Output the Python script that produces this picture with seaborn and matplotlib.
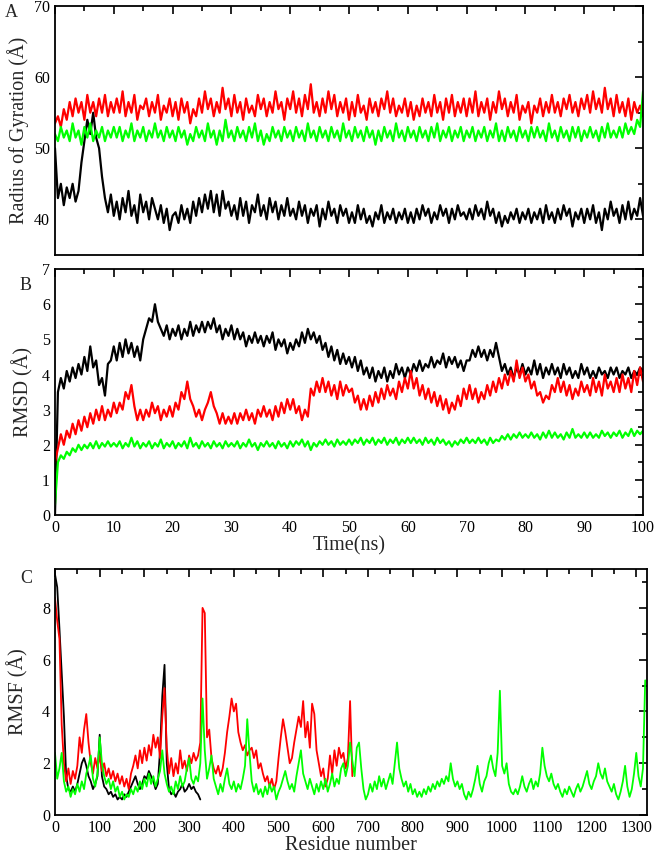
import numpy as np
import pandas as pd
import matplotlib
matplotlib.use("Agg")
import matplotlib.pyplot as plt
from matplotlib.ticker import MultipleLocator
import seaborn as sns

# ---------------- data ----------------
time_step = 0.5  # ns between samples

rg_black = [50, 43, 45, 42, 44.5, 43, 45, 42.5, 44,
            48, 51, 54, 52, 55, 51.5, 50, 46,
            43, 41, 43.5, 40.5,
            42.5, 40, 43, 41, 44, 40.5, 42, 39.5, 43.5, 41, 42.5, 40, 43, 41.5, 40, 42, 39.5, 41.5, 38.5, 40.5,
            41, 39.5, 42, 40, 41.5, 39.5, 42.5, 40.5, 43, 41, 43.5, 41.5, 44, 41, 43.5, 40.5, 44, 41.5, 42.5, 40.5,
            42, 40, 43, 40.5, 42.5, 39.5, 42, 41, 43.5, 40.5, 42, 40, 43, 41, 42.5, 40, 42, 40.5, 43, 40.5,
            41.5, 40, 42.5, 40.5, 42, 39.5, 41.5, 40.5, 42, 39, 41.5, 40, 42.5, 40.5, 41.5, 39.5, 42, 40.5, 41.5, 39.5,
            41, 39.5, 42, 40, 41.5, 39.5, 40.5, 39, 41, 40, 42, 39.5, 41, 40, 41.5, 39.5, 41, 40, 41.5, 39.5,
            41, 39.5, 41.5, 40, 42, 40.5, 41.5, 39.5, 41, 40, 42, 40.5, 41.5, 39.5, 41.5, 40, 42, 40.5, 41, 40,
            41.5, 40, 42, 40.5, 41.5, 40, 42.5, 40.5, 41.5, 39.5, 41, 39, 40.5, 39.5, 41, 40, 41.5, 39.5, 41, 40,
            41.5, 39.5, 41, 40, 41.5, 39.5, 42, 40, 41, 39.5, 41.5, 40, 42, 40.5, 41.5, 39, 41, 40, 41.5, 39.5,
            41.5, 40, 42, 39.5, 41, 38.5, 41.5, 40, 42.5, 40.5, 41.5, 39.5, 42, 40, 42.5, 40, 41.5, 40.5, 43, 40.5]

rg_red = [53.5, 54.5, 53, 55.5, 54, 56.5, 54.5, 57, 55, 56.5, 54, 57.5, 55, 56.5, 54.5, 57, 55, 57.5, 54.5, 56.5, 55,
          57, 55, 58, 54.5, 56.5, 55, 57.5, 54, 56, 55.5, 57, 54.5, 56.5, 55, 57.5, 54, 56, 55, 57, 54.5,
          56.5, 54, 57, 55, 56.5, 53.5, 55.5, 54.5, 57, 55, 58, 55.5, 57, 54.5, 56.5, 55, 58.5, 55.5, 57, 54.5,
          57.5, 55, 56.5, 54, 57, 55, 56, 54.5, 57.5, 55.5, 57, 54.5, 56.5, 55, 58, 55.5, 56.5, 54, 57, 55.5,
          58, 55, 57, 54.5, 57.5, 55.5, 59, 55, 56.5, 54.5, 57, 55, 58, 55.5, 57.5, 54.5, 56.5, 55, 57, 54,
          56.5, 54.5, 57.5, 55, 56, 54, 57, 55, 56.5, 54.5, 57, 55.5, 58, 55, 57, 54.5, 56, 55, 57, 54.5,
          56.5, 54, 56, 54.5, 57, 55, 56.5, 54.5, 57.5, 55, 56.5, 54, 57, 55, 57.5, 54.5, 56.5, 55, 57, 54.5,
          57, 55, 58, 54.5, 56.5, 55, 57, 54, 56.5, 55, 58, 55.5, 57, 54.5, 56.5, 55, 57.5, 54, 56, 55,
          56.5, 53.5, 56, 55, 57, 54.5, 56.5, 55, 57.5, 55, 56.5, 54.5, 57, 55.5, 57.5, 55, 56.5, 54.5, 57, 55.5,
          57.5, 55, 58, 55.5, 57, 55, 58.5, 55.5, 57, 54.5, 57.5, 55, 56.5, 54.5, 57, 54, 56.5, 55, 56, 54.5]

rg_green = [52, 51, 53, 51.5, 52.5, 51, 53.5, 51.5, 52.5, 50.5, 53, 51.5, 53.5, 51, 52.5, 51.5, 53, 51, 52.5, 51.5, 53,
            51.5, 53, 51, 52.5, 51.5, 53.5, 51, 52.5, 51.5, 53, 51, 52.5, 51.5, 53.5, 51.5, 52.5, 51, 53, 51.5, 52.5,
            51, 53, 51.5, 52.5, 50.5, 52, 51, 53, 51.5, 52.5, 51, 53.5, 51.5, 52.5, 50.5, 52.5, 51, 54, 51.5, 52.5,
            51, 53, 51.5, 52.5, 51, 53, 51.5, 53.5, 51, 52.5, 50.5, 52, 51, 53, 51.5, 52.5, 51, 53, 51.5, 52.5,
            51, 53, 51.5, 52.5, 51, 53.5, 51.5, 52.5, 51, 53, 51.5, 52.5, 51, 53, 51.5, 52.5, 51, 53.5, 51.5, 52.5,
            51, 53, 51.5, 52.5, 51, 53, 51.5, 52.5, 50.5, 52.5, 51, 53, 51.5, 52.5, 51, 53.5, 51.5, 52.5, 51, 53,
            51.5, 52.5, 51, 53, 51.5, 52.5, 51, 53, 51.5, 53.5, 51, 52.5, 51.5, 53, 51, 52.5, 51.5, 53, 51, 52.5,
            51.5, 53, 51, 52.5, 51.5, 53, 51, 52.5, 51.5, 53.5, 51, 52.5, 51, 53, 51.5, 52.5, 51, 53, 51.5, 52.5,
            51, 53, 51.5, 53, 51.5, 52.5, 51, 53.5, 51.5, 52.5, 51, 53, 51.5, 52.5, 51, 53, 51.5, 53, 51, 52.5,
            51.5, 53, 51.5, 52.5, 51, 53, 51.5, 53.5, 51.5, 52.5, 51.5, 53, 51.5, 53.5, 52, 53, 52, 54, 53, 58]

rmsd_black = [0, 3.5, 3.9, 3.6, 4.1, 3.8, 4.2, 3.9, 4.3, 4.0, 4.5,
              4.1, 4.8, 4.2, 4.4, 3.7, 3.9, 3.4, 4.3, 4.4, 4.8,
              4.4, 4.9, 4.5, 5.0, 4.6, 4.9, 4.5, 4.8, 4.4, 5.0,
              5.3, 5.6, 5.5, 6.0, 5.5, 5.3, 5.1, 5.4, 5.0, 5.3,
              5.1, 5.4, 5.0, 5.3, 5.1, 5.5, 5.1, 5.4, 5.2, 5.5,
              5.2, 5.5, 5.3, 5.6, 5.2, 5.4, 5.0, 5.3, 5.1, 5.4,
              5.0, 5.3, 5.0, 5.2, 4.8, 5.1, 4.9, 5.2, 4.9, 5.1,
              4.8, 5.1, 4.9, 5.2, 4.7, 5.0, 4.8, 5.0, 4.6, 4.9,
              4.7, 5.0, 4.8, 5.2, 4.9, 5.3, 5.0, 5.2, 4.9, 5.1,
              4.7, 4.9, 4.5, 4.8, 4.4, 4.7, 4.3, 4.6, 4.3, 4.5,
              4.2, 4.5, 4.1, 4.4, 4.0, 4.2, 3.9, 4.2, 3.8, 4.1,
              3.9, 4.2, 3.8, 4.1, 3.9, 4.3, 4.0, 4.2, 3.9, 4.2,
              4.0, 4.3, 4.1, 4.4, 4.1, 4.3, 4.2, 4.5, 4.2, 4.4,
              4.3, 4.6, 4.2, 4.5, 4.3, 4.5, 4.2, 4.4, 4.1, 4.4,
              4.4, 4.7, 4.5, 4.8, 4.5, 4.7, 4.4, 4.7, 4.5, 4.9,
              4.5, 4.1, 4.3, 4.0, 4.2, 3.9, 4.2, 4.0, 4.3, 4.0,
              4.2, 4.0, 4.4, 4.0, 4.3, 3.9, 4.2, 4.0, 4.3, 4.0,
              4.2, 3.9, 4.3, 4.0, 4.2, 3.9, 4.1, 3.9, 4.3, 4.0,
              4.2, 3.9, 4.1, 3.9, 4.2, 4.0, 4.1, 3.9, 4.2, 4.0,
              4.2, 3.9, 4.1, 4.0, 4.2, 3.9, 4.1, 4.0, 4.2, 4.1]

rmsd_red = [1.5, 1.9, 2.3, 2.0, 2.4, 2.2, 2.6, 2.3, 2.7, 2.4, 2.8,
            2.5, 2.9, 2.6, 3.0, 2.7, 3.1, 2.7, 3.0, 2.8, 3.2,
            2.9, 3.2, 3.0, 3.5, 3.3, 3.7, 3.1, 2.7, 3.0, 2.7,
            3.0, 2.8, 3.2, 2.9, 3.1, 2.7, 3.0, 2.8, 3.1, 2.8,
            3.2, 3.0, 3.5, 3.3, 3.8, 3.3, 3.1, 2.8, 3.0, 2.7,
            3.0, 3.2, 3.5, 3.1, 2.9, 2.6, 2.9, 2.6, 2.8, 2.6,
            2.9, 2.6, 2.9, 2.7, 3.0, 2.7, 2.9, 2.6, 3.0, 2.8,
            3.1, 2.8, 3.0, 2.7, 3.1, 2.8, 3.2, 2.9, 3.3, 3.0,
            3.3, 2.9, 3.1, 2.7, 3.0, 2.8, 3.6, 3.4, 3.8, 3.5,
            3.9, 3.5, 3.8, 3.4, 3.7, 3.3, 3.8, 3.4, 3.7, 3.5,
            3.6, 3.2, 3.4, 3.0, 3.3, 3.0, 3.4, 3.1, 3.5, 3.2,
            3.6, 3.3, 3.7, 3.4, 3.6, 3.3, 3.8, 3.5, 3.9, 3.6,
            4.1, 3.6, 3.9, 3.4, 3.7, 3.3, 3.6, 3.2, 3.5, 3.1,
            3.4, 3.0, 3.3, 2.9, 3.2, 3.0, 3.4, 3.1, 3.6, 3.3,
            3.7, 3.3, 3.6, 3.2, 3.5, 3.3, 3.7, 3.4, 3.8, 3.5,
            3.9, 3.6, 4.0, 3.7, 4.1, 3.8, 4.4, 3.9, 4.2, 3.8,
            4.0, 3.6, 3.8, 3.4, 3.5, 3.2, 3.4, 3.3, 3.7, 3.5,
            3.9, 3.5, 3.8, 3.4, 3.7, 3.3, 3.6, 3.4, 3.8, 3.5,
            3.7, 3.4, 3.9, 3.5, 3.8, 3.4, 4.0, 3.6, 3.8, 3.5,
            3.9, 3.5, 4.0, 3.6, 3.9, 3.5, 4.1, 3.7, 4.2, 3.8]

rmsd_green = [0.3, 1.5, 1.7, 1.6, 1.8, 1.7, 1.9, 1.8, 2.0, 1.85, 2.0,
              1.9, 2.05, 1.9, 2.1, 1.9, 2.05, 1.95, 2.1, 1.95, 2.05,
              1.95, 2.1, 1.9, 2.05, 1.95, 2.2, 1.95, 2.1, 1.9, 2.05,
              1.95, 2.1, 1.9, 2.05, 1.95, 2.15, 1.9, 2.05, 1.95, 2.1,
              1.9, 2.05, 1.95, 2.1, 1.9, 2.2, 1.95, 2.05, 1.9, 2.1,
              1.95, 2.05, 1.9, 2.1, 1.95, 2.05, 1.9, 2.1, 1.95, 2.05,
              1.95, 2.1, 1.9, 2.05, 1.95, 2.15, 1.95, 2.05, 1.85, 2.05,
              1.95, 2.1, 1.95, 2.05, 1.9, 2.1, 1.95, 2.05, 1.9, 2.1,
              1.95, 2.1, 2.0, 2.15, 1.95, 2.1, 1.85, 2.05, 1.95, 2.1,
              2.0, 2.15, 2.0, 2.1, 1.95, 2.15, 2.0, 2.1, 2.0, 2.15,
              2.0, 2.15, 2.05, 2.2, 2.0, 2.15, 2.05, 2.2, 2.0, 2.15,
              2.05, 2.2, 2.0, 2.15, 2.05, 2.2, 2.0, 2.15, 2.05, 2.2,
              2.05, 2.2, 2.05, 2.15, 2.0, 2.2, 2.05, 2.15, 2.0, 2.2,
              2.05, 2.15, 2.0, 2.1, 1.95, 2.1, 2.0, 2.15, 2.05, 2.2,
              2.05, 2.15, 2.05, 2.2, 2.05, 2.15, 2.0, 2.2, 2.05, 2.15,
              2.1, 2.25, 2.15, 2.3, 2.15, 2.3, 2.2, 2.35, 2.2, 2.3,
              2.2, 2.35, 2.2, 2.3, 2.15, 2.35, 2.2, 2.4, 2.2, 2.35,
              2.2, 2.3, 2.15, 2.35, 2.2, 2.45, 2.2, 2.3, 2.2, 2.35,
              2.2, 2.35, 2.2, 2.3, 2.2, 2.4, 2.25, 2.35, 2.2, 2.35,
              2.25, 2.4, 2.2, 2.35, 2.25, 2.45, 2.25, 2.4, 2.3, 2.4]

res_step = 5  # residues between samples

rmsf_black = [9.3, 8.8, 7.2, 5.5, 3.8, 1.5, 1.0, 0.9, 1.1, 0.9, 1.2, 1.6, 2.0, 2.2, 1.9, 1.5, 1.3, 1.0, 1.2, 1.5,
              3.1, 1.5, 1.1, 1.0, 0.8, 0.9, 0.7, 0.8, 0.6, 0.7, 0.6, 0.8, 0.7, 0.9, 1.1, 1.3, 1.5, 1.2, 1.0, 1.2,
              1.5, 1.4, 1.7, 1.5, 1.3, 1.0, 1.2, 2.5, 4.6, 5.8, 2.0, 1.0,
              0.8, 0.9, 0.7, 0.9, 1.0, 1.2, 0.9, 1.0,
              1.2, 1.0, 1.1, 0.9, 0.8, 0.6]

rmsf_red = [8.4, 7.5, 6.8, 3.5, 2.0, 1.3, 1.8, 1.2, 1.7, 1.4, 1.9, 3.0, 2.4, 3.3, 3.9, 2.8, 2.0, 1.6, 2.2, 1.8,
            2.3, 1.7, 2.0, 1.5, 1.8, 1.4, 1.7, 1.3, 1.6, 1.2, 1.5, 1.1, 1.4, 1.0, 1.6, 1.9, 2.3, 1.8, 2.5, 2.0,
            2.6, 2.1, 2.7, 2.3, 3.1, 2.6, 3.0, 2.2, 3.8, 4.9, 2.6, 1.6, 2.2, 1.5, 2.0, 1.6, 2.5, 1.8, 2.1, 1.7,
            2.3, 2.0, 2.4, 2.1, 2.3, 2.8, 8.0, 7.8, 3.0, 3.3, 2.2, 1.8, 1.6, 1.9, 1.5, 1.8, 2.4, 3.2, 3.8, 4.5,
            4.0, 4.3, 3.2, 2.8, 2.5, 2.7, 2.3, 2.5, 2.6, 2.2, 2.5, 1.8, 2.0, 1.6, 1.3, 1.5, 1.1, 1.4, 1.0, 1.3,
            2.2, 3.0, 3.7, 3.2, 2.6, 2.0, 2.2, 2.8, 3.3, 3.8, 3.4, 4.4, 3.0, 3.6, 2.6, 4.3, 3.9, 2.5, 2.0, 1.5,
            1.8, 1.1, 1.4, 2.3, 1.6, 2.5, 1.9, 2.6, 2.2, 2.4, 1.8, 2.2, 4.4, 1.5]

rmsf_green = [2.4, 1.4, 1.8, 2.4, 1.3, 0.9, 1.1, 0.7, 1.0, 0.8, 1.2, 0.9, 1.3, 1.0, 1.6, 1.9, 2.3, 1.4, 1.1, 1.6,
              3.0, 2.0, 1.5, 1.2, 1.4, 1.0, 1.3, 0.9, 1.1, 0.7, 0.9, 0.6, 0.8, 0.7, 1.0, 0.8, 1.1, 0.9, 1.3, 1.0,
              1.4, 1.1, 1.6, 1.2, 1.5, 1.1, 1.4, 1.7, 2.5, 1.6, 1.2, 0.9, 1.1, 0.8, 1.3, 1.0, 1.5, 1.1, 1.3, 1.8,
              2.2, 1.4, 1.2, 1.5, 1.3, 2.0, 4.5, 2.5, 1.4, 1.8, 2.3, 1.4, 1.1, 0.8, 1.2, 0.9, 1.4, 1.8, 1.2, 1.0,
              1.3, 0.9, 1.2, 1.0, 1.4, 1.9, 3.7, 2.4, 1.3, 0.9, 1.2, 0.8, 1.0, 0.7, 1.1, 0.8, 1.2, 0.9, 1.1, 0.6,
              0.9, 1.1, 1.4, 1.7, 1.3, 1.0, 1.2, 0.9, 1.5, 2.0, 2.5, 1.6, 1.3, 1.0, 1.4, 1.1, 0.8, 1.2, 0.9, 1.3,
              1.0, 1.4, 0.9, 1.2, 1.6, 1.1, 1.4, 1.2, 1.8, 2.0, 1.5, 1.9, 2.8, 2.1, 1.5, 2.6, 2.8, 1.8, 1.0, 0.6,
              0.8, 1.2, 0.9, 1.3, 1.0, 1.5, 1.1, 1.4, 1.0, 1.3, 1.6, 1.2, 2.0, 2.8, 1.8, 1.4, 1.1, 1.3, 0.9, 1.2,
              0.8, 1.0, 0.7, 0.9, 0.7, 1.0, 0.8, 1.1, 0.9, 1.2, 1.0, 1.3, 1.1, 1.4, 1.2, 1.5, 1.3, 2.0, 1.4, 1.1,
              1.3, 1.0, 1.2, 0.8, 0.6, 0.9, 0.7, 1.0, 1.4, 1.9, 1.2, 0.9, 1.3, 1.5, 2.0, 2.3, 1.8, 1.5, 2.4, 4.8,
              1.9, 1.6, 2.0, 1.2, 0.9, 0.8, 1.0, 0.8, 1.1, 1.5, 1.1, 0.9, 1.2, 1.4, 1.0, 1.3, 1.1, 1.6, 2.6, 1.9,
              1.5, 1.3, 1.6, 1.2, 1.0, 1.2, 0.9, 0.7, 1.0, 0.8, 1.1, 0.9, 0.7, 1.0, 1.2, 0.9, 1.1, 1.4, 1.7, 1.2,
              1.0, 1.3, 1.5, 2.0, 1.6, 1.4, 1.8, 1.3, 1.1, 0.9, 1.2, 0.8, 0.6, 0.9, 1.3, 1.9, 1.1, 0.7, 1.0, 1.6,
              2.4, 1.5, 1.1, 1.8, 5.2]

series_colors = ["black", "#ff0000", "#00ff00"]

# ---------------- style ----------------
sns.set_style("white")
plt.rcParams['font.family'] = ['Liberation Serif', 'DejaVu Serif']

fig = plt.figure(figsize=(6.6, 8.57), dpi=100)
axA = fig.add_axes([0.0833, 0.7025, 0.891, 0.2905])
axB = fig.add_axes([0.0833, 0.399, 0.891, 0.287])
axC = fig.add_axes([0.0833, 0.049, 0.897, 0.287])


def make_frame(series_list, step):
    frames = []
    for i, vals in enumerate(series_list):
        frames.append(pd.DataFrame({"x": np.arange(len(vals)) * step, "y": vals, "s": i}))
    return pd.concat(frames, ignore_index=True)


def draw(ax, df, lw):
    for i, c in enumerate(series_colors):
        sub = df[df.s == i]
        sns.lineplot(data=sub, x="x", y="y", color=c, lw=lw, ax=ax,
                     estimator=None, sort=False, legend=False)


draw(axA, make_frame([rg_black, rg_red, rg_green], time_step), 1.6)
draw(axB, make_frame([rmsd_black, rmsd_red, rmsd_green], time_step), 1.6)
draw(axC, make_frame([rmsf_black, rmsf_red, rmsf_green], res_step), 1.3)

tick_fs = 11.5
for ax in (axA, axB, axC):
    ax.tick_params(direction="in", top=True, right=True, which="both",
                   labelsize=tick_fs, width=1.2, colors="black")
    ax.tick_params(which="major", length=6)
    ax.tick_params(which="minor", length=3.5)
    for sp in ax.spines.values():
        sp.set_linewidth(1.3)
        sp.set_color("black")
    ax.set_xlabel("")
    ax.set_ylabel("")

axA.set_xlim(0, 100)
axA.set_ylim(35, 70)
axA.xaxis.set_major_locator(MultipleLocator(10))
axA.xaxis.set_minor_locator(MultipleLocator(5))
axA.yaxis.set_major_locator(MultipleLocator(10))
axA.yaxis.set_minor_locator(MultipleLocator(5))
axA.set_xticklabels([])
axA.set_ylabel("Radius of Gyration (Å)", fontsize=14.5, labelpad=4)

axB.set_xlim(0, 100)
axB.set_ylim(0, 7)
axB.xaxis.set_major_locator(MultipleLocator(10))
axB.xaxis.set_minor_locator(MultipleLocator(5))
axB.yaxis.set_major_locator(MultipleLocator(1))
axB.yaxis.set_minor_locator(MultipleLocator(0.5))
axB.set_xlabel("Time(ns)", fontsize=14.5, labelpad=0)
axB.set_ylabel("RMSD (Å)", fontsize=14.5, labelpad=6)

axC.set_xlim(0, 1324)
axC.set_ylim(0, 9.5)
axC.xaxis.set_major_locator(MultipleLocator(100))
axC.xaxis.set_minor_locator(MultipleLocator(50))
axC.yaxis.set_major_locator(MultipleLocator(2))
axC.yaxis.set_minor_locator(MultipleLocator(1))
axC.set_xlabel("Residue number", fontsize=14.5, labelpad=0)
axC.set_ylabel("RMSF (Å)", fontsize=14.5, labelpad=10)

fig.text(0.008, 0.985, "A", fontsize=13, ha="left", va="center")
fig.text(0.03, 0.667, "B", fontsize=13, ha="left", va="center")
fig.text(0.03, 0.325, "C", fontsize=13, ha="left", va="center")

fig.savefig("out.png", dpi=100)
